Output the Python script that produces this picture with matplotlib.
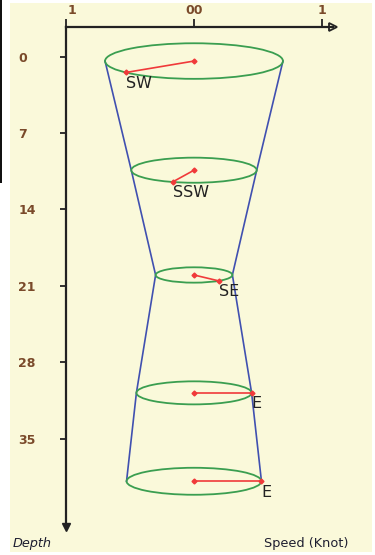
import matplotlib
matplotlib.use("Agg")
import matplotlib.pyplot as plt
import matplotlib.transforms as mtransforms
from matplotlib.patches import Ellipse, Rectangle
import numpy as np

# ---- data ----
depths = [0.4, 10.4, 20.0, 30.8, 38.9]          # layer depth
speeds = [0.695, 0.49, 0.30, 0.45, 0.527]       # knots (ellipse radius)
bearings = [230, 200, 140, 90, 90]              # degrees clockwise from north
dir_labels = ["SW", "SSW", "SE", "E", "E"]
depth_ticks = [0, 7, 14, 21, 28, 35]
speed_ticks = [-1, 0, 1]
speed_tick_labels = ["1", "00", "1"]

W, H = 375, 555
fig = plt.figure(figsize=(W / 100, H / 100), dpi=100)
fig.patch.set_facecolor("white")
fig.add_artist(Rectangle((10 / W, 3 / H), 362 / W, 549 / H, transform=fig.transFigure,
                         facecolor="#FAF9DA", edgecolor="none", zorder=0))
fig.add_artist(Rectangle((0, (H - 183) / H), 1.5 / W, 183 / H, transform=fig.transFigure,
                         facecolor="#111111", edgecolor="none", zorder=0))

ax_l, ax_r, ax_t, ax_b = 66, 333, 27, 527
ax = fig.add_axes([ax_l / W, (H - ax_b) / H, (ax_r - ax_l) / W, (ax_b - ax_t) / H])
ax.set_facecolor("none")
xmin, xmax = -1.0, 1.086
ymin, ymax = -2.72, 43.09
ax.set_xlim(xmin, xmax)
ax.set_ylim(ymax, ymin)

px_x = (ax_r - ax_l) / (xmax - xmin)
px_y = (ax_b - ax_t) / (ymax - ymin)
tilt = 0.2
k = tilt * px_x / px_y

green = "#3A9E50"
blue = "#4050B0"
red = "#F03A3A"

# side lines
ax.plot([-s for s in speeds], depths, color=blue, lw=1.2, zorder=2)
ax.plot(speeds, depths, color=blue, lw=1.2, zorder=2)

for d, s, b, lbl in zip(depths, speeds, bearings, dir_labels):
    ax.add_patch(Ellipse((0, d), 2 * s, 2 * s * k, facecolor="none",
                         edgecolor=green, lw=1.3, zorder=3))
    th = np.deg2rad(b)
    ex = s * np.sin(th)
    ey = d - s * np.cos(th) * k
    ax.plot([0, ex], [d, ey], color=red, lw=1.2, marker="D", markersize=2.5, zorder=4)
    ax.annotate(lbl, (ex, ey), xytext=(0, -2.5), textcoords="offset points",
                ha="left", va="top", fontsize=11.5, color="#222222", zorder=5)

# axes styling
for sp in ["right", "bottom"]:
    ax.spines[sp].set_visible(False)
for sp in ["top", "left"]:
    ax.spines[sp].set_linewidth(1.6)
    ax.spines[sp].set_color("#222222")

ax.xaxis.tick_top()
ax.set_xticks(speed_ticks)
ax.set_xticklabels(speed_tick_labels)
ax.tick_params(axis="x", direction="out", length=6, width=1.3, pad=1,
               labelsize=9, labelcolor="#7a4a2a", color="#222222")
ax.set_yticks(depth_ticks)
ax.set_yticklabels([str(t) for t in depth_ticks])
ax.tick_params(axis="y", direction="out", length=4.3, width=1.3, pad=30.2,
               labelsize=9, labelcolor="#7a4a2a", color="#222222")
for t in ax.get_yticklabels():
    t.set_horizontalalignment("left")
    t.set_fontweight("bold")
for t in ax.get_xticklabels():
    t.set_fontweight("bold")
first = ax.get_xticklabels()[0]
first.set_transform(first.get_transform() +
                    mtransforms.ScaledTranslation(6 / 100, 0, fig.dpi_scale_trans))

# axis arrows
ax.plot([1], [1], transform=ax.transAxes, marker=">", markersize=6, color="#222222",
        markerfacecolor="#FAF9DA", markeredgewidth=1.3, clip_on=False)
ax.plot([0], [0], transform=ax.transAxes, marker="v", markersize=6, color="#222222",
        markerfacecolor="#222222", clip_on=False)

fig.text(13 / W, (H - 543) / H, "Depth", fontsize=9.3, style="italic",
         color="#1e1e30", ha="left", va="center")
fig.text(349 / W, (H - 543) / H, "Speed (Knot)", fontsize=9.3,
         color="#1e1e30", ha="right", va="center")

fig.savefig("out.png", dpi=100, facecolor=fig.get_facecolor())
